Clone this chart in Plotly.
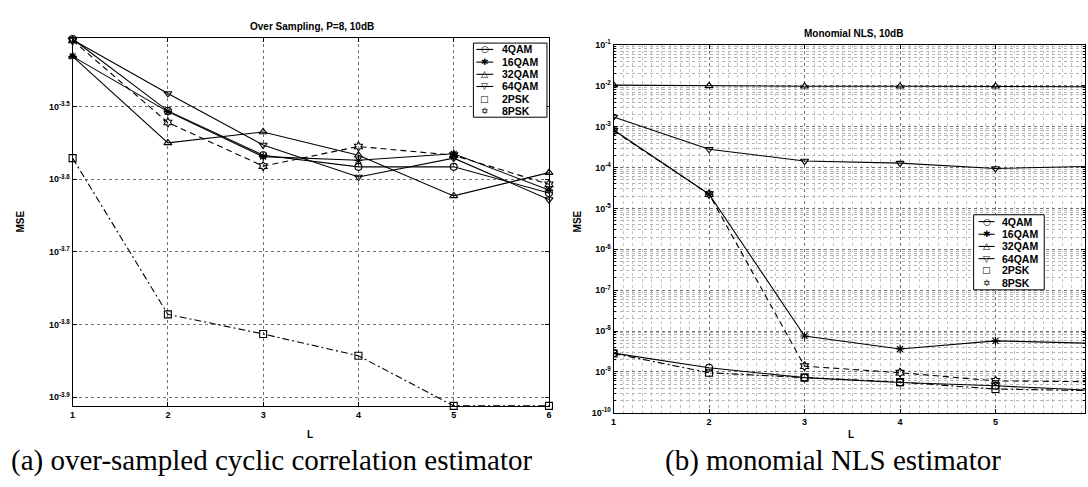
import plotly.graph_objects as go

W, H = 1088, 487

# Subcarrier window length L
L = [1, 2, 3, 4, 5, 6]
schemes = ["4QAM", "16QAM", "32QAM", "64QAM", "2PSK", "8PSK"]

# (a) over-sampled cyclic correlation estimator, log10(MSE)
os_4qam = [-3.407, -3.506, -3.567, -3.583, -3.583, -3.619]
os_16qam = [-3.431, -3.507, -3.569, -3.574, -3.565, -3.615]
os_32qam = [-3.431, -3.550, -3.535, -3.567, -3.623, -3.591]
os_64qam = [-3.408, -3.482, -3.553, -3.597, -3.571, -3.628]
os_2psk = [-3.571, -3.786, -3.813, -3.843, -3.912, -3.912]
os_8psk = [-3.409, -3.522, -3.582, -3.555, -3.567, -3.607]

# (b) monomial NLS estimator, log10(MSE)
nls_4qam = [-8.54, -8.90, -9.14, -9.26, -9.34, -9.45]
nls_16qam = [-3.08, -4.65, -8.12, -8.44, -8.24, -8.30]
nls_32qam = [-1.98, -2.00, -2.01, -2.01, -2.01, -2.02]
nls_64qam = [-2.76, -3.55, -3.84, -3.89, -4.02, -3.97]
nls_2psk = [-8.55, -9.02, -9.14, -9.25, -9.42, -9.46]
nls_8psk = [-3.10, -4.65, -8.86, -9.02, -9.22, -9.24]

left_yticks = [-3.9, -3.8, -3.7, -3.6, -3.5]
left_ytext = ["10<sup>-3.9</sup>", "10<sup>-3.8</sup>", "10<sup>-3.7</sup>",
              "10<sup>-3.6</sup>", "10<sup>-3.5</sup>"]
right_yticks = list(range(-10, 0))
right_ytext = ["10<sup>%d</sup>" % e for e in right_yticks]

symbols = ["circle-open", "asterisk-open", "triangle-up-open",
           "triangle-down-open", "square-open", "hexagram-open"]
glyphs = ["○", "✱", "△", "▽", "□", "✡"]
dashes = ["solid", "solid", "solid", "solid", "7px,3px,2px,3px", "6px,4px"]

FONT = "Arial, Liberation Sans, sans-serif"
SERIF = "Liberation Serif, Times New Roman, serif"

fig = go.Figure()

def add_series(data, xaxis, yaxis):
    for name, vals, sym, dash in zip(schemes, data, symbols, dashes):
        fig.add_trace(go.Scatter(
            x=L, y=[10 ** v for v in vals], name=name, mode="lines+markers",
            xaxis=xaxis, yaxis=yaxis, showlegend=False,
            line=dict(color="black", width=1.1, dash=dash),
            marker=dict(symbol=sym, size=7, color="black",
                        line=dict(color="black", width=1.1)),
            cliponaxis=(xaxis != "x"),
        ))

add_series([os_4qam, os_16qam, os_32qam, os_64qam, os_2psk, os_8psk], "x", "y")
add_series([nls_4qam, nls_16qam, nls_32qam, nls_64qam, nls_2psk, nls_8psk], "x2", "y2")

def px_x(p):
    return p / W

def px_y(p):
    return 1 - p / H

axis_common = dict(
    showline=True, linecolor="black", linewidth=1, mirror="ticks",
    ticks="inside", ticklen=4, tickcolor="black",
    showgrid=True, gridcolor="#707070", griddash="dot", gridwidth=1,
    zeroline=False,
    tickfont=dict(family=FONT, size=9, color="black", weight="bold"),
)

fig.update_layout(
    width=W, height=H,
    margin=dict(l=0, r=0, t=0, b=0),
    paper_bgcolor="white", plot_bgcolor="white",
    showlegend=False,
    xaxis=dict(domain=[px_x(70), px_x(549)], range=[1, 6], anchor="y",
               tickvals=L, **axis_common),
    yaxis=dict(domain=[px_y(409), px_y(32)], type="log", range=[-3.912, -3.406],
               anchor="x", tickvals=[10 ** v for v in left_yticks],
               ticktext=left_ytext, **axis_common),
    xaxis2=dict(domain=[px_x(614), 1.0], range=[1, 5.9375], anchor="y2",
                tickvals=L,
                minor=dict(dtick=0.1, showgrid=True, gridcolor="#c4c4c4",
                           griddash="dot", ticks=""),
                **axis_common),
    yaxis2=dict(domain=[px_y(416), px_y(39)], type="log", range=[-10, -1],
                anchor="x2", tickvals=[10 ** v for v in right_yticks],
                ticktext=right_ytext,
                minor=dict(dtick="D1", showgrid=True, gridcolor="#b4b4b4",
                           griddash="dot", ticks="inside", ticklen=2),
                **axis_common),
)

label_font = dict(family=FONT, size=10, color="black", weight="bold")
annotations = [
    dict(text="Over Sampling, P=8, 10dB", x=px_x(311), y=px_y(20), font=label_font),
    dict(text="Monomial NLS, 10dB", x=px_x(855), y=px_y(27), font=label_font),
    dict(text="MSE", x=px_x(18), y=px_y(220), textangle=-90, font=label_font),
    dict(text="MSE", x=px_x(578), y=px_y(220), textangle=-90, font=label_font),
    dict(text="L", x=px_x(309), y=px_y(438), font=label_font),
    dict(text="L", x=px_x(853), y=px_y(438), font=label_font),
    dict(text="(a) over-sampled cyclic correlation estimator", x=px_x(270), y=px_y(465),
         font=dict(family=SERIF, size=29, color="black")),
    dict(text="(b) monomial NLS estimator", x=px_x(835), y=px_y(465),
         font=dict(family=SERIF, size=29, color="black")),
]
shapes = []

# Compact boxed legends: sample line + marker glyph + scheme name per row
def add_legend(box, key_x0, key_x1, text_x, rows_y):
    x0, y0, x1, y1 = box
    shapes.append(dict(type="rect", xref="paper", yref="paper",
                       x0=px_x(x0), x1=px_x(x1), y0=px_y(y1), y1=px_y(y0),
                       line=dict(color="black", width=1), fillcolor="white",
                       layer="above"))
    for name, glyph, dash, ry in zip(schemes, glyphs, dashes, rows_y):
        if dash == "solid":
            shapes.append(dict(type="line", xref="paper", yref="paper",
                               x0=px_x(key_x0), x1=px_x(key_x1),
                               y0=px_y(ry), y1=px_y(ry),
                               line=dict(color="black", width=1.1), layer="above"))
        annotations.append(dict(text=glyph, x=px_x((key_x0 + key_x1) / 2), y=px_y(ry),
                                xanchor="center",
                                font=dict(family="DejaVu Sans", size=9, color="black")))
        annotations.append(dict(text=name, x=px_x(text_x), y=px_y(ry), xanchor="left",
                                font=dict(family=FONT, size=10.5, color="black",
                                          weight="bold")))

add_legend((473, 37, 547, 113), 476, 493, 500, [43.5, 56.5, 69, 81.5, 94, 106.5])
add_legend((976, 213, 1047, 290), 981, 997, 1003, [220, 233, 245.5, 258, 270, 282.5])

for a in annotations:
    a.setdefault("xanchor", "center")
    a.update(xref="paper", yref="paper", showarrow=False, yanchor="middle")
fig.update_layout(annotations=annotations, shapes=shapes)

fig.write_html("out.html")
